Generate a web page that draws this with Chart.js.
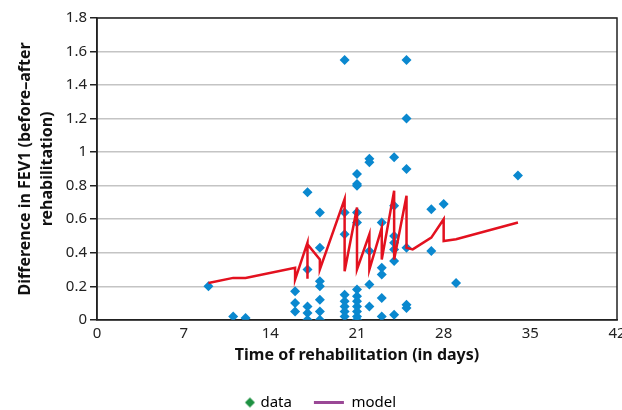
<!DOCTYPE html>
<html>
<head>
<meta charset="utf-8">
<script src="https://cdn.jsdelivr.net/npm/chart.js@4.4.1/dist/chart.umd.min.js"></script>
<style>
    body { margin: 0; background: #fff; }
    #wrap { width: 622px; height: 410px; }
</style>
</head>
<body>
<div id="wrap"><canvas id="fevChart" width="622" height="410"></canvas></div>
<script>
// observed patients: days of rehabilitation and FEV1 difference
const dataDays = [
    9, 11, 12,
    16, 16, 16,
    17, 17, 17, 17, 17,
    18, 18, 18, 18, 18, 18, 18,
    20, 20, 20, 20, 20, 20, 20, 20,
    21, 21, 21, 21, 21, 21, 21, 21, 21, 21, 21, 21,
    22, 22, 22, 22, 22,
    23, 23, 23, 23, 23,
    24, 24, 24, 24, 24, 24, 24,
    25, 25, 25, 25, 25, 25,
    27, 27, 28, 29, 34
];
const dataDiff = [
    0.20, 0.02, 0.01,
    0.17, 0.10, 0.05,
    0.76, 0.30, 0.08, 0.04, 0.00,
    0.64, 0.43, 0.23, 0.20, 0.12, 0.05, 0.00,
    1.55, 0.64, 0.51, 0.15, 0.11, 0.08, 0.05, 0.02,
    0.87, 0.81, 0.80, 0.64, 0.58, 0.18, 0.14, 0.11, 0.08, 0.05, 0.02, 0.00,
    0.96, 0.94, 0.41, 0.21, 0.08,
    0.58, 0.31, 0.27, 0.13, 0.02,
    0.97, 0.68, 0.50, 0.46, 0.42, 0.35, 0.03,
    1.55, 1.20, 0.90, 0.43, 0.09, 0.07,
    0.66, 0.41, 0.69, 0.22, 0.86
];

// fitted model, in the order the line is drawn
const modelDays = [9, 11, 12, 16, 16, 17, 17, 17, 18, 18, 20, 20, 21, 21, 22, 22,
    23, 23, 24, 24, 25, 25, 25.5, 27, 28, 28, 29, 34];
const modelDiff = [0.22, 0.25, 0.25, 0.31, 0.24, 0.46, 0.245, 0.45, 0.36, 0.30, 0.72, 0.29,
    0.67, 0.30, 0.51, 0.30, 0.55, 0.36, 0.77, 0.36, 0.74, 0.43, 0.42, 0.49, 0.60, 0.47, 0.48, 0.58];

const legendNames = ["data", "model"];
const xRange = [0, 42, 7];
const yRange = [0, 1.8, 0.2];

const FONT = "'Noto Sans', sans-serif";

// little green diamond for the legend, pushed to the right so it sits by its text
const diamond = document.createElement("canvas");
diamond.width = 36;
diamond.height = 12;
const dctx = diamond.getContext("2d");
dctx.fillStyle = "#1e9142";
dctx.beginPath();
dctx.moveTo(30, 1);
dctx.lineTo(35, 6);
dctx.lineTo(30, 11);
dctx.lineTo(25, 6);
dctx.closePath();
dctx.fill();

// box round the plot area
const frame = {
    id: "frame",
    beforeDatasetsDraw(chart) {
        const { ctx, chartArea: a } = chart;
        ctx.save();
        ctx.strokeStyle = "#222";
        ctx.lineWidth = 1.5;
        ctx.strokeRect(a.left, a.top, a.right - a.left, a.bottom - a.top);
        ctx.restore();
    }
};

new Chart(document.getElementById("fevChart"), {
    type: "scatter",
    data: {
        datasets: [
            {
                label: legendNames[0],
                data: dataDays.map((d, i) => ({ x: d, y: dataDiff[i] })),
                pointStyle: "rectRot",
                pointRadius: 5,
                backgroundColor: "#0a88cf",
                borderColor: "#0a88cf",
                borderWidth: 0,
                order: 2
            },
            {
                label: legendNames[1],
                data: modelDays.map((d, i) => ({ x: d, y: modelDiff[i] })),
                showLine: true,
                pointRadius: 0,
                borderColor: "#e3111f",
                borderWidth: 2.5,
                tension: 0,
                order: 1
            }
        ]
    },
    options: {
        responsive: false,
        animation: false,
        devicePixelRatio: 1,
        layout: { padding: { top: 18, right: 3, left: 0, bottom: -10 } },
        scales: {
            x: {
                type: "linear",
                min: xRange[0],
                max: xRange[1],
                ticks: { stepSize: xRange[2], color: "#222", font: { family: FONT, size: 15 }, padding: -3 },
                grid: { display: false },
                border: { color: "#222", width: 1.5 },
                title: {
                    display: true,
                    text: "Time of rehabilitation (in days)",
                    color: "#111",
                    font: { family: FONT, size: 16, weight: "bold" },
                    padding: { top: 6, bottom: 8 }
                },
                afterFit(scale) { scale.paddingRight = 0; }
            },
            y: {
                min: yRange[0],
                max: yRange[1],
                ticks: {
                    stepSize: yRange[2],
                    color: "#222",
                    font: { family: FONT, size: 15 },
                    padding: 3,
                    callback: (v) => +v.toFixed(1)
                },
                grid: { color: "#c4c4c4", lineWidth: 1.5, tickColor: "#222", tickLength: 7 },
                border: { color: "#222", width: 1.5 },
                title: {
                    display: true,
                    text: ["Difference in FEV1 (before\u2013after", "rehabilitation)"],
                    color: "#111",
                    font: { family: FONT, size: 16, weight: "bold", lineHeight: 1.35 },
                    padding: { top: 15, bottom: 4 }
                },
                afterFit(scale) { scale.width = 97; }
            }
        },
        plugins: {
            legend: {
                position: "bottom",
                labels: {
                    usePointStyle: true,
                    pointStyleWidth: 30,
                    padding: 22,
                    color: "#222",
                    font: { family: FONT, size: 15 },
                    generateLabels() {
                        return [
                            { text: legendNames[0], pointStyle: diamond, fillStyle: "#1e9142", strokeStyle: "#1e9142", lineWidth: 0, datasetIndex: 0 },
                            { text: legendNames[1], pointStyle: "line", fillStyle: "#9a4896", strokeStyle: "#9a4896", lineWidth: 3, datasetIndex: 1 }
                        ];
                    }
                }
            },
            tooltip: { enabled: false }
        }
    },
    plugins: [frame]
});
</script>
</body>
</html>
